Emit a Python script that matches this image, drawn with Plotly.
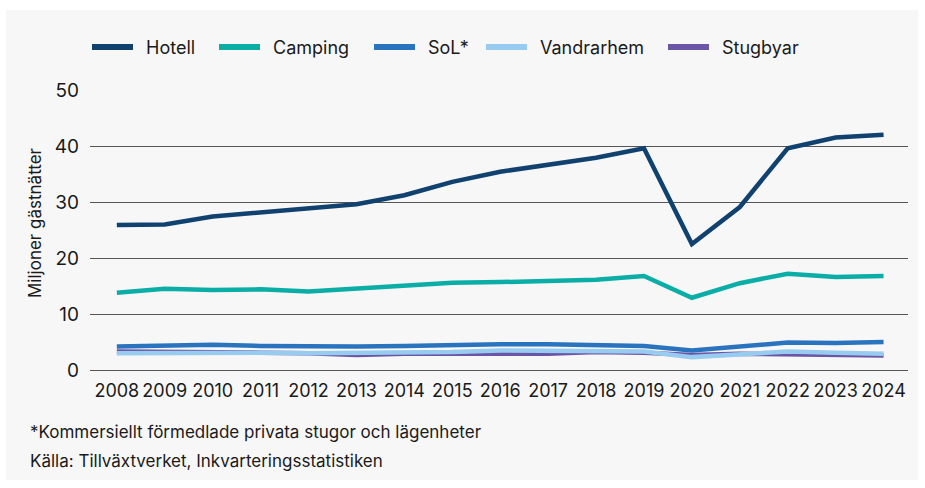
import plotly.graph_objects as go

years = list(range(2008, 2025))
hotell = [25.9, 26.0, 27.4, 28.1, 28.7, 29.6, 31.2, 33.6, 35.4, 36.6, 37.9, 39.6, 22.5, 29.1, 39.6, 41.5, 42.0]
camping = [13.8, 14.5, 14.3, 14.4, 14.0, 14.5, 15.1, 15.6, 15.7, 15.8, 16.1, 16.8, 12.9, 15.5, 17.2, 16.6, 16.8]
sol = [4.2, 4.3, 4.5, 4.3, 4.2, 4.2, 4.3, 4.5, 4.6, 4.6, 4.4, 4.3, 3.5, 4.2, 4.9, 4.8, 5.0]
vandrarhem = [3.0, 3.1, 3.2, 3.1, 3.0, 3.0, 3.1, 3.2, 3.5, 3.5, 3.4, 3.3, 2.3, 2.8, 3.3, 3.1, 2.9]
stugbyar = [3.3, 3.3, 3.3, 3.1, 3.0, 2.7, 2.9, 3.0, 2.9, 2.9, 3.2, 3.1, 2.7, 2.9, 2.8, 2.7, 2.6]

names = ["Hotell", "Camping", "SoL*", "Vandrarhem", "Stugbyar"]
colors = ["#11426f", "#0aaea6", "#2a74bf", "#98cbf0", "#6b55a6"]
values = [hotell, camping, sol, vandrarhem, stugbyar]

FONT = "Inter"
L, T, W, H = 90, 90, 818, 280
def px(x):
    return (x - L) / W
def py(y):
    return (T + H - y) / H

fig = go.Figure()
# draw lower series first so that Hotell/Camping sit on top; Vandrarhem over Stugbyar
draw_order = [4, 3, 2, 1, 0]
for i in draw_order:
    fig.add_trace(go.Scatter(
        x=years, y=values[i], name=names[i], mode="lines",
        line=dict(color=colors[i], width=4.5), showlegend=False,
    ))

fig.add_shape(type="rect", xref="paper", yref="paper",
              x0=-0.1027, x1=1.0125, y0=-0.393, y1=1.286,
              fillcolor="#f7f7f7", line_width=0, layer="below")

# legend drawn manually (positions in pixels)
leg_line_x = [90, 217, 372, 484, 666]
annotations = []
for i, name in enumerate(names):
    x0 = leg_line_x[i]
    fig.add_shape(type="line", xref="paper", yref="paper",
                  x0=px(x0 + 2), x1=px(x0 + 43), y0=py(47), y1=py(47),
                  line=dict(color=colors[i], width=6))
    annotations.append(dict(text=name, xref="paper", yref="paper", x=px(x0 + 54), y=py(47),
                            xanchor="left", yanchor="middle", showarrow=False,
                            font=dict(size=18, family=FONT)))

annotations += [
    dict(text="Miljoner gästnätter", xref="paper", yref="paper", x=px(35), y=py(222),
         xanchor="center", yanchor="middle", textangle=-90, showarrow=False,
         font=dict(size=17, family=FONT)),
    dict(text="*Kommersiellt förmedlade privata stugor och lägenheter", xref="paper", yref="paper",
         x=px(28), y=py(432), xanchor="left", yanchor="middle",
         showarrow=False, font=dict(size=17, family=FONT)),
    dict(text="Källa: Tillväxtverket, Inkvarteringsstatistiken", xref="paper", yref="paper",
         x=px(28), y=py(461), xanchor="left", yanchor="middle",
         showarrow=False, font=dict(size=17, family=FONT)),
]

fig.update_layout(
    width=925, height=488,
    margin=dict(l=90, r=17, t=90, b=118),
    paper_bgcolor="white", plot_bgcolor="rgba(0,0,0,0)",
    font=dict(family=FONT, color="#1a1a1a", size=16),
    showlegend=False,
    xaxis=dict(range=[2007.44, 2024.51], tickmode="array", tickvals=years,
               ticktext=[str(y) for y in years], showgrid=False, zeroline=False,
               showline=False, ticks="", tickfont=dict(size=18, family=FONT),
               ticklabelstandoff=8, automargin=False),
    yaxis=dict(range=[0, 50], tickvals=[0, 10, 20, 30, 40, 50], showgrid=True,
               gridcolor="#555555", gridwidth=1, zeroline=True, zerolinecolor="#555555",
               zerolinewidth=1, showline=False, ticks="", ticklabelstandoff=10,
               tickfont=dict(size=19, family=FONT), automargin=False),
    annotations=annotations,
)

fig.write_html("out.html", post_script="document.body.style.margin='0';",
               config={"displayModeBar": False})
